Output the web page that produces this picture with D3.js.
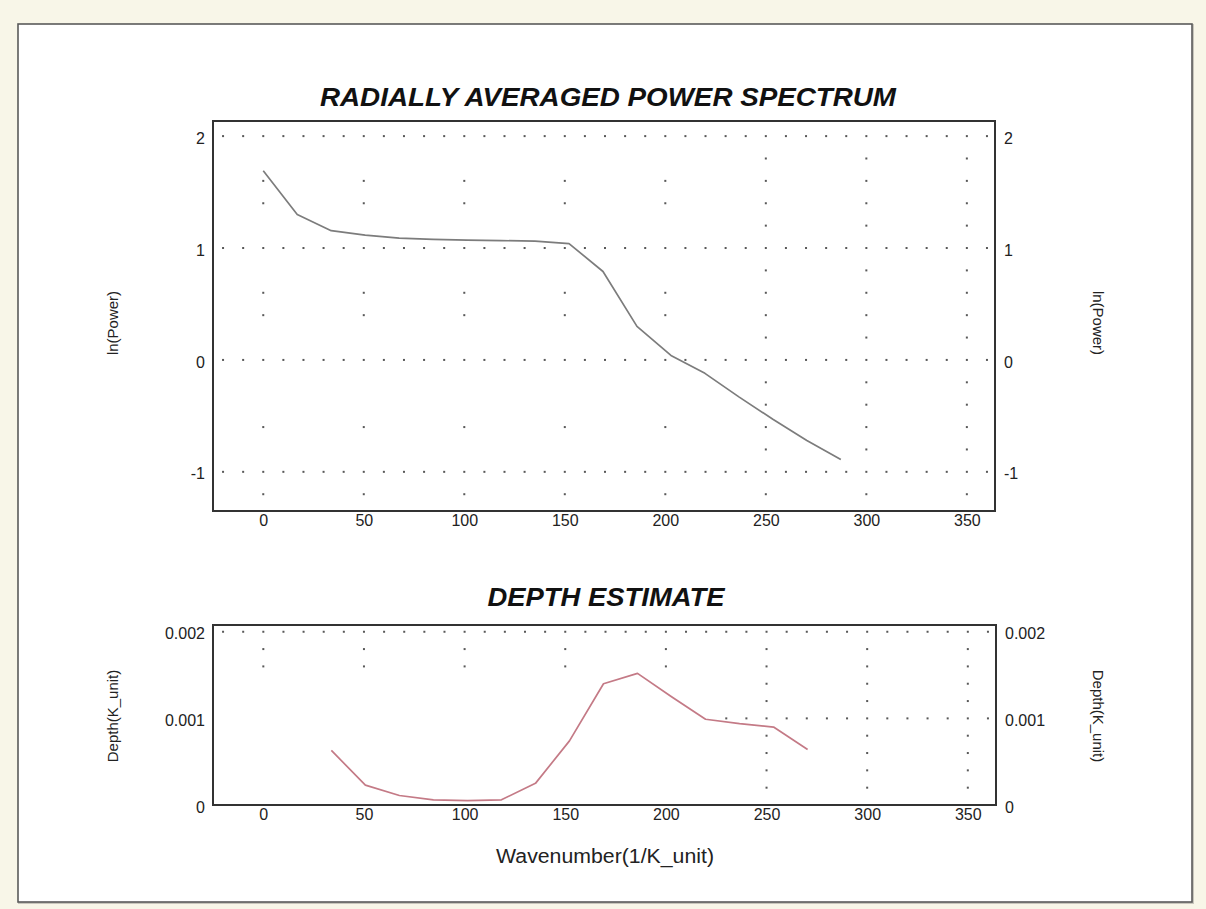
<!DOCTYPE html>
<html>
<head>
<meta charset="utf-8">
<script src="https://cdn.jsdelivr.net/npm/d3@7"></script>
<style>
  html, body { margin: 0; padding: 0; background: #f8f6e8; }
  svg { display: block; font-family: Arial, "Liberation Sans", sans-serif; }
</style>
</head>
<body>
<svg id="chart" width="1206" height="909"></svg>
<script>
// Radially averaged power spectrum: wavenumber vs ln(Power)
const spectrumWavenumber = [0, 16.9, 33.8, 50.7, 67.6, 84.5, 101.4, 118.3, 135.2, 152.1, 169, 185.9, 202.8, 219.7, 236.6, 253.5, 270.4, 287.3];
const spectrumLnPower = [1.69, 1.30, 1.155, 1.115, 1.088, 1.078, 1.070, 1.066, 1.062, 1.040, 0.79, 0.30, 0.04, -0.12, -0.33, -0.53, -0.72, -0.89];

// Depth estimate derived from the spectrum slope
const depthWavenumber = [33.8, 50.7, 67.6, 84.5, 101.4, 118.3, 135.2, 152.1, 169, 185.9, 202.8, 219.7, 236.6, 253.5, 270.4];
const depthValue = [0.00063, 0.00023, 0.00011, 0.00006, 0.00005, 0.00006, 0.00025, 0.00074, 0.00140, 0.00152, 0.00125, 0.00099, 0.00094, 0.00090, 0.00064];

// Tick labels
const xTicks = [0, 50, 100, 150, 200, 250, 300, 350];
const spectrumTicks = [-1, 0, 1, 2];
const spectrumTickLabels = ["-1", "0", "1", "2"];
const depthTicks = [0, 0.001, 0.002];
const depthTickLabels = ["0", "0.001", "0.002"];

// Dotted guide grid
const gridRowX = [-20, -10, 0, 10, 20, 30, 40, 50, 60, 70, 80, 90, 100, 110, 120, 130, 140, 150, 160, 170, 180, 190, 200, 210, 220, 230, 240, 250, 260, 270, 280, 290, 300, 310, 320, 330, 340, 350, 360];
const depthMidRowX = [230, 240, 250, 260, 270, 280, 290, 300, 310, 320, 330, 340, 350, 360];
const spectrumColsLeft = [0, 50, 100, 150, 200];
const spectrumColsRight = [250, 300, 350];
const spectrumColDotsLeft = [1.6, 1.4, 0.6, 0.4, -0.6, -1.2];
const spectrumColDotsRight = [1.8, 1.6, 1.4, 1.2, 0.8, 0.6, 0.4, 0.2, -0.2, -0.4, -0.6, -0.8, -1.2];
const depthColDotsLeft = [0.0018, 0.0016];
const depthColDotsRight = [0.0018, 0.0016, 0.0014, 0.0012, 0.0008, 0.0006, 0.0004, 0.0002];

const svg = d3.select("#chart");

// Page background and framed panel
svg.append("rect").attr("width", 1206).attr("height", 909).attr("fill", "#f8f6e8");
svg.append("rect").attr("x", 19).attr("y", 25).attr("width", 1174).attr("height", 878)
  .attr("fill", "none").attr("stroke", "#c8c6bc").attr("stroke-width", 2);
svg.append("rect").attr("x", 18).attr("y", 24).attr("width", 1174).attr("height", 878)
  .attr("fill", "#ffffff").attr("stroke", "#5a5a5a").attr("stroke-width", 1.6);

// Scales
const xTop = d3.scaleLinear().domain([-25, 364]).range([213, 995]);
const yTop = d3.scaleLinear().domain([-1.35, 2.135]).range([511, 121]);
const xBot = d3.scaleLinear().domain([-25, 364]).range([213, 996]);
const yBot = d3.scaleLinear().domain([0, 0.002078]).range([805, 625]);

const dotColor = "#585858";

function dots(g, pts, xs, ys) {
  g.selectAll(null).data(pts).enter().append("rect")
    .attr("x", d => xs(d[0]) - 1).attr("y", d => ys(d[1]) - 1)
    .attr("width", 2).attr("height", 2).attr("fill", dotColor);
}

function frame(xs, ys) {
  const [x0, x1] = xs.range();
  const [y1, y0] = ys.range();
  svg.append("rect").attr("x", x0).attr("y", y0).attr("width", x1 - x0).attr("height", y1 - y0)
    .attr("fill", "none").attr("stroke", "#333").attr("stroke-width", 2);
}

function sideTitle(text, x, y, angle) {
  svg.append("text").attr("transform", `translate(${x},${y}) rotate(${angle})`)
    .attr("text-anchor", "middle").attr("dominant-baseline", "central")
    .attr("font-size", 15).attr("fill", "#222").text(text);
}

// ---------- Upper plot: power spectrum ----------
const gTop = svg.append("g");
const topRowPts = [];
spectrumTicks.forEach(v => gridRowX.forEach(x => topRowPts.push([x, v])));
spectrumColsLeft.forEach(c => spectrumColDotsLeft.forEach(v => topRowPts.push([c, v])));
spectrumColsRight.forEach(c => spectrumColDotsRight.forEach(v => topRowPts.push([c, v])));
dots(gTop, topRowPts, xTop, yTop);

gTop.append("path").datum(spectrumWavenumber.map((w, i) => [w, spectrumLnPower[i]]))
  .attr("fill", "none").attr("stroke", "#7c7c7c").attr("stroke-width", 1.7)
  .attr("stroke-linejoin", "round")
  .attr("d", d3.line().x(d => xTop(d[0])).y(d => yTop(d[1])));

frame(xTop, yTop);

const axisStyle = g => {
  g.select(".domain").remove();
  g.selectAll(".tick line").remove();
  g.selectAll("text").attr("font-size", 16).attr("fill", "#222").attr("font-family", "Arial, 'Liberation Sans', sans-serif");
};

svg.append("g").attr("transform", "translate(0,511)")
  .call(d3.axisBottom(xTop).tickValues(xTicks).tickSize(0).tickPadding(4).tickFormat(d => String(d)))
  .call(axisStyle);
svg.append("g").attr("transform", "translate(213,2)")
  .call(d3.axisLeft(yTop).tickValues(spectrumTicks).tickSize(0).tickPadding(8).tickFormat((d, i) => spectrumTickLabels[i]))
  .call(axisStyle);
svg.append("g").attr("transform", "translate(995,2)")
  .call(d3.axisRight(yTop).tickValues(spectrumTicks).tickSize(0).tickPadding(9).tickFormat((d, i) => spectrumTickLabels[i]))
  .call(axisStyle);

svg.append("text").attr("x", 608).attr("y", 106).attr("text-anchor", "middle")
  .attr("font-size", 26).attr("font-weight", "bold").attr("font-style", "italic")
  .attr("textLength", 576).attr("lengthAdjust", "spacingAndGlyphs")
  .attr("fill", "#111").text("RADIALLY AVERAGED POWER SPECTRUM");

sideTitle("ln(Power)", 112, 323, -90);
sideTitle("ln(Power)", 1098, 323, 90);

// ---------- Lower plot: depth estimate ----------
const gBot = svg.append("g");
const botPts = [];
gridRowX.forEach(x => botPts.push([x, 0.002]));
depthMidRowX.forEach(x => botPts.push([x, 0.001]));
spectrumColsLeft.forEach(c => depthColDotsLeft.forEach(v => botPts.push([c, v])));
spectrumColsRight.forEach(c => depthColDotsRight.forEach(v => botPts.push([c, v])));
dots(gBot, botPts, xBot, yBot);

gBot.append("path").datum(depthWavenumber.map((w, i) => [w, depthValue[i]]))
  .attr("fill", "none").attr("stroke", "#c47a86").attr("stroke-width", 1.7)
  .attr("stroke-linejoin", "round")
  .attr("d", d3.line().x(d => xBot(d[0])).y(d => yBot(d[1])));

frame(xBot, yBot);

svg.append("g").attr("transform", "translate(0,805)")
  .call(d3.axisBottom(xBot).tickValues(xTicks).tickSize(0).tickPadding(4).tickFormat(d => String(d)))
  .call(axisStyle);
svg.append("g").attr("transform", "translate(213,2)")
  .call(d3.axisLeft(yBot).tickValues(depthTicks).tickSize(0).tickPadding(8).tickFormat((d, i) => depthTickLabels[i]))
  .call(axisStyle);
svg.append("g").attr("transform", "translate(996,2)")
  .call(d3.axisRight(yBot).tickValues(depthTicks).tickSize(0).tickPadding(9).tickFormat((d, i) => depthTickLabels[i]))
  .call(axisStyle);

svg.append("text").attr("x", 606).attr("y", 606).attr("text-anchor", "middle")
  .attr("font-size", 26).attr("font-weight", "bold").attr("font-style", "italic")
  .attr("textLength", 237).attr("lengthAdjust", "spacingAndGlyphs")
  .attr("fill", "#111").text("DEPTH ESTIMATE");

sideTitle("Depth(K_unit)", 112, 716, -90);
sideTitle("Depth(K_unit)", 1098, 716, 90);

svg.append("text").attr("x", 605).attr("y", 863).attr("text-anchor", "middle")
  .attr("font-size", 20).attr("textLength", 218).attr("lengthAdjust", "spacingAndGlyphs")
  .attr("fill", "#222").text("Wavenumber(1/K_unit)");
</script>
</body>
</html>
